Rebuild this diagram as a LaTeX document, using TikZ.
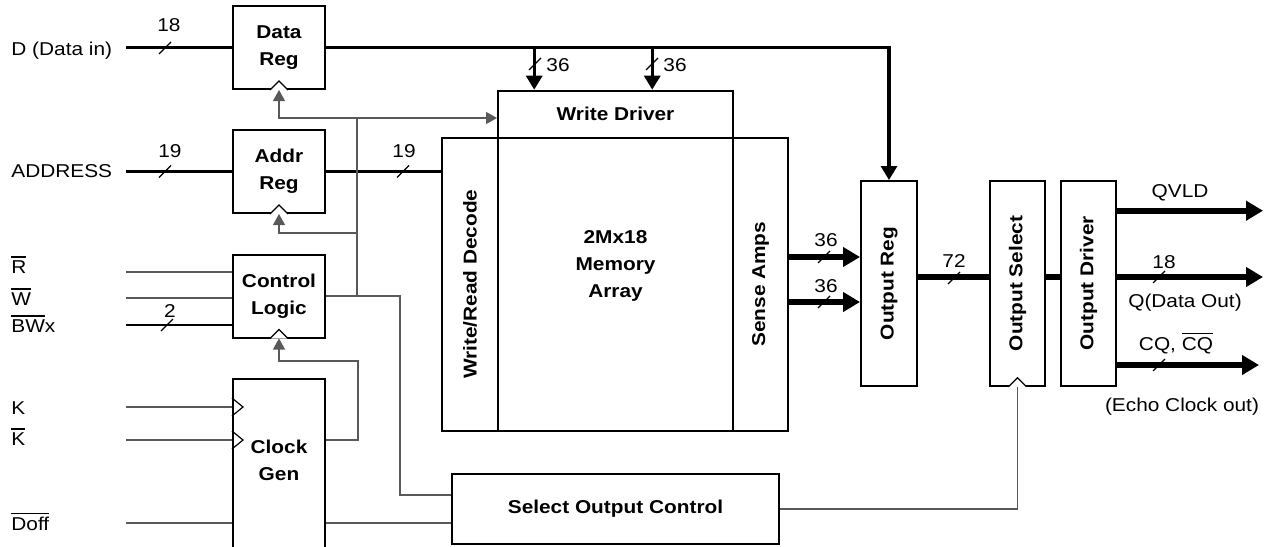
\documentclass[tikz,border=0pt]{standalone}
\usepackage{fontspec}
\setmainfont{Liberation Sans}[FakeStretch=1.12]
\usepackage{graphicx}
\usetikzlibrary{arrows.meta,calc}

% active-low signal names
\newcommand{\barsig}[1]{\leavevmode\vbox{\hrule height 0.6pt\kern 1.3pt\hbox{#1}}}

\tikzset{
  blk/.style={draw,line width=1pt,inner sep=0pt,align=center,
    font=\fontsize{9.3}{13.5}\selectfont\bfseries},
  txt/.style={inner sep=0pt,align=center},
  bus/.style={line width=1.6pt},
  wbus/.style={line width=2.8pt},
  sig/.style={line width=0.6pt,black!65},
  busarr/.style={-{Triangle[length=7pt,width=8pt]}},
  wbusarr/.style={-{Triangle[length=8.5pt,width=9.5pt]}},
  sigarr/.style={-{Triangle[length=5.5pt,width=6pt]},black!65},
  ckmark/.style={line width=0.6pt,fill=white},
  buswidth/.pic={\draw[line width=0.6pt] (-6,6) -- (6,-6);}
}

\begin{document}
\begin{tikzpicture}[x=0.5pt,y=-0.5pt,font=\fontsize{9.3}{13.5}\selectfont]
\useasboundingbox (0,0) rectangle (1273,546);

% registers and control on the left
\node[blk,minimum width=46pt,minimum height=41.5pt] (datareg) at (279,47.5) {Data\\Reg};
\node[blk,minimum width=46pt,minimum height=41.5pt] (addrreg) at (279,171.5) {Addr\\Reg};
\node[blk,minimum width=46pt,minimum height=41.5pt] (ctrl) at (279,296) {Control\\Logic};
\node[blk,minimum width=46pt,minimum height=91pt] (clkgen) at (279,470) {};
\node[txt,font=\fontsize{9.3}{13.5}\selectfont\bfseries] (clktxt) at (279,460) {Clock\\Gen};

% memory core
\node[blk,minimum width=117.5pt,minimum height=23.5pt] (wrdrv) at (615.5,114.2) {Write Driver};
\node[blk,minimum width=28pt,minimum height=146.5pt] (wrdec) at (470,284.2) {\rotatebox{90}{Write/Read Decode}};
\node[blk,minimum width=117.5pt,minimum height=146.5pt] (memarr) at (615.5,284.2) {};
\node[txt,font=\fontsize{9.3}{13.5}\selectfont\bfseries] (memtxt) at (615.5,266) {2Mx18\\Memory\\Array};
\node[blk,minimum width=27.5pt,minimum height=146.5pt] (sense) at (760.5,284.2) {\rotatebox{90}{Sense Amps}};
\node[blk,minimum width=163.5pt,minimum height=35pt] (selctl) at (615.5,509) {Select Output Control};

% output side
\node[blk,minimum width=28pt,minimum height=102.4pt] (outreg) at (889,283.4) {\rotatebox{90}{Output Reg}};
\node[blk,minimum width=27.5pt,minimum height=102.4pt] (outsel) at (1017.5,283.4) {\rotatebox{90}{Output Select}};
\node[blk,minimum width=27.5pt,minimum height=102.4pt] (outdrv) at (1088.5,283.4) {\rotatebox{90}{Output Driver}};

% clock marks
\foreach \n in {datareg,addrreg,ctrl,outsel}
  \draw[ckmark] ([xshift=-4.5pt]\n.south) -- ([yshift=4.5pt]\n.south) -- ([xshift=4.5pt]\n.south);

% input pins
\coordinate (din) at (126,47.5);
\coordinate (ain) at (126,171.5);
\coordinate (rin) at (126,272);
\coordinate (win) at (126,298);
\coordinate (bwin) at (126,325);
\coordinate (kin) at (126,407);
\coordinate (kbin) at (126,440);
\coordinate (doffin) at (126,523);

\node[txt,anchor=base west] (ldin) at (11,55) {D (Data in)};
\node[txt,anchor=base west] (lain) at (11,177) {ADDRESS};
\node[txt,anchor=base west] (lrin) at (11,273) {\barsig{R}};
\node[txt,anchor=base west] (lwin) at (11,305) {\barsig{W}};
\node[txt,anchor=base west] (lbwin) at (11,332) {\barsig{BW}x};
\node[txt,anchor=base west] (lkin) at (11,414) {K};
\node[txt,anchor=base west] (lkbin) at (11,445) {\barsig{K}};
\node[txt,anchor=base west] (ldoff) at (11,530) {\barsig{Doff}};

% data and address buses
\draw[bus] (din) -- (datareg.west);
\draw[bus,busarr] (datareg.east) -| (outreg.north);
\coordinate (wd1) at ($(wrdrv.north west)!0.157!(wrdrv.north east)$);
\coordinate (wd2) at ($(wrdrv.north west)!0.655!(wrdrv.north east)$);
\foreach \c in {wd1,wd2}
  \draw[bus,busarr] (datareg.east -| \c) -- (\c);
\draw[bus] (ain) -- (addrreg.west);
\draw[bus] (addrreg.east) -- (addrreg.east -| wrdec.west);

\pic at (165,48) {buswidth};
\pic at (165,171.5) {buswidth};
\pic at (403,171.5) {buswidth};
\pic at (535,64) {buswidth};
\pic at (652,64) {buswidth};
\node[txt,anchor=base] (w18) at (169,32) {18};
\node[txt,anchor=base] (w19a) at (170,157) {19};
\node[txt,anchor=base] (w19b) at (404,157) {19};
\node[txt,anchor=base] (w36a) at (558,71) {36};
\node[txt,anchor=base] (w36b) at (675,71) {36};

% control inputs
\draw[sig] (rin) -- (rin -| ctrl.west);
\draw[sig] (win) -- (win -| ctrl.west);
\draw[line width=1pt] (bwin) -- (bwin -| ctrl.west);
\pic at (167,325) {buswidth};
\node[txt,anchor=base] (w2) at (170,317) {2};

% clock generator
\draw[sig] (kin) -- (kin -| clkgen.west);
\draw[sig] (kbin) -- (kbin -| clkgen.west);
\foreach \c in {kin,kbin}
  \draw[line width=0.6pt] ($(\c -| clkgen.west)+(0,-9)$) -- ($(\c -| clkgen.west)+(11,0)$) -- ($(\c -| clkgen.west)+(0,9)$);
\draw[sig] (doffin) -- (doffin -| clkgen.west);
\draw[sig] (doffin -| clkgen.east) -- (doffin -| selctl.west);

% clock tree
\coordinate (ckj) at (357,118);
\coordinate (aj) at (357,233);
\coordinate (gj) at (358,361);
\coordinate (sj) at (400,495);
\draw[sig] (ctrl.east) -- (ctrl.east -| ckj) -- (ckj);
\draw[sig,sigarr] (ckj) -- (ckj -| wrdrv.west);
\draw[sig,sigarr] (ckj) -| (datareg.south);
\draw[sig,sigarr] (aj) -| (addrreg.south);
\draw[sig,sigarr] (kbin -| clkgen.east) -| (gj) -| (ctrl.south);
\draw[sig] (ctrl.east) -| (sj) -- (sj -| selctl.west);
\draw[sig] (selctl.east) -| (outsel.south);

% read path
\coordinate (sarow1) at (0,257);
\coordinate (sarow2) at (0,302);
\coordinate (orow) at (0,277);
\draw[wbus,wbusarr] (sense.east |- sarow1) -- (outreg.west |- sarow1);
\draw[wbus,wbusarr] (sense.east |- sarow2) -- (outreg.west |- sarow2);
\draw[wbus] (outreg.east |- orow) -- (outsel.west |- orow);
\draw[wbus] (outsel.east |- orow) -- (outdrv.west |- orow);
\pic at (824,257) {buswidth};
\pic at (824,302) {buswidth};
\pic at (954,278) {buswidth};
\node[txt,anchor=base] (w36c) at (826,246) {36};
\node[txt,anchor=base] (w36d) at (826,292) {36};
\node[txt,anchor=base] (w72) at (954,267) {72};

% output pins
\coordinate (qvld) at (1263,210.7);
\coordinate (qout) at (1263,277);
\coordinate (cqout) at (1259,365);
\draw[wbus,wbusarr] (outdrv.east |- qvld) -- (qvld);
\draw[wbus,wbusarr] (outdrv.east |- qout) -- (qout);
\draw[wbus,wbusarr] (outdrv.east |- cqout) -- (cqout);
\pic at (1159,277) {buswidth};
\pic at (1159,365) {buswidth};
\node[txt,anchor=base] (lqvld) at (1180,197) {QVLD};
\node[txt,anchor=base] (w18o) at (1164,268) {18};
\node[txt,anchor=base] (lqout) at (1185,307) {Q(Data Out)};
\node[txt,anchor=base] (lcq) at (1176,350) {CQ, \barsig{CQ}};
\node[txt,anchor=base] (lecho) at (1182,411) {(Echo Clock out)};

\end{tikzpicture}
\end{document}
